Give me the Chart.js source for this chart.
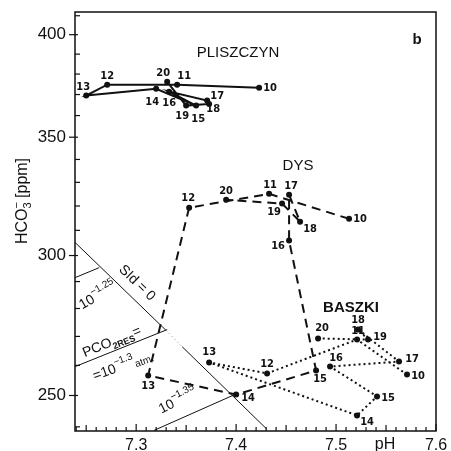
<!DOCTYPE html>
<html>
<head>
<meta charset="utf-8">
<script src="https://cdn.jsdelivr.net/npm/chart.js@4.4.0/dist/chart.umd.min.js"></script>
<style>
html, body { margin: 0; padding: 0; background: #fff; }
</style>
</head>
<body>
<canvas id="myChart" width="451" height="451"></canvas>
<script>
// sample numbers, same order in every series
const samples = ['10', '11', '12', '13', '14', '15', '16', '17', '18', '19', '20'];

const plisPH   = [7.423, 7.341, 7.271, 7.250, 7.320, 7.360, 7.333, 7.371, 7.373, 7.350, 7.331];
const plisHCO3 = [373.3, 374.8, 374.8, 369.5, 372.8, 364.7, 371.4, 367.1, 365.5, 364.7, 376.2];

const dysPH   = [7.513, 7.433, 7.353, 7.312, 7.400, 7.480, 7.453, 7.453, 7.464, 7.446, 7.390];
const dysHCO3 = [314.7, 325.1, 319.3, 256.6, 250.3, 258.3, 305.9, 324.7, 313.5, 321.0, 322.6];

const basPH   = [7.571, 7.521, 7.431, 7.373, 7.521, 7.541, 7.494, 7.563, 7.522, 7.532, 7.482];
const basHCO3 = [256.9, 268.9, 257.3, 261.0, 243.6, 249.7, 259.6, 261.3, 272.4, 268.9, 269.3];

// equilibrium lines
const sidPH   = [7.239, 7.330, 7.346, 7.431];
const sidHCO3 = [305.1, 272.1, 266.4, 239.2];
const co2aPH   = [7.239, 7.263];
const co2aHCO3 = [291.5, 295.3];
const co2bPH   = [7.239, 7.331];
const co2bHCO3 = [259.6, 272.4];
const co2cPH   = [7.318, 7.400];
const co2cHCO3 = [238.9, 250.5];

const xTicks = [7.3, 7.4, 7.5, 7.6];
const yTicks = [250, 300, 350, 400];

// where the sample numbers sit next to their points (px)
const labelOffsets = [
    [[11, 0], [7, -9], [0, -9], [-3, -8], [-4, 13], [2, 14], [0, 12], [10, -4], [4, 5], [-4, 11], [-4, -9]],
    [[11, 0], [1, -9], [-1, -10], [0, 11], [12, 4], [4, 9], [-11, 6], [2, -9], [10, 7], [-8, 9], [0, -9]],
    [[11, 2], [1, -8], [0, -9], [0, -10], [10, 7], [11, 2], [6, -8], [13, -2], [0, -9], [12, -2], [4, -10]]
];

function pts(xs, ys) {
    return xs.map((v, i) => ({ x: v, y: ys[i] }));
}

function thin(xs, ys) {
    return {
        data: pts(xs, ys),
        showLine: true,
        borderColor: '#111',
        borderWidth: 1,
        pointRadius: 0,
        fill: false
    };
}

function series(xs, ys, dash) {
    return {
        data: pts(xs, ys),
        showLine: true,
        borderColor: '#111',
        backgroundColor: '#111',
        borderWidth: 2,
        borderDash: dash,
        pointRadius: 3,
        pointBorderWidth: 0,
        fill: false
    };
}

function richText(ctx, cx, cy, angle, parts) {
    ctx.save();
    ctx.translate(cx, cy);
    ctx.rotate(angle * Math.PI / 180);
    ctx.textBaseline = 'middle';
    ctx.textAlign = 'left';
    let w = 0;
    parts.forEach(p => {
        ctx.font = p.font;
        if (!p.stay) w += ctx.measureText(p.t).width;
    });
    let xx = -w / 2;
    parts.forEach(p => {
        ctx.font = p.font;
        ctx.fillText(p.t, xx, p.dy || 0);
        if (!p.stay) xx += ctx.measureText(p.t).width;
    });
    ctx.restore();
}

function seg(ctx, x1, y1, x2, y2) {
    ctx.beginPath();
    ctx.moveTo(x1, y1);
    ctx.lineTo(x2, y2);
    ctx.stroke();
}

const F = "'Liberation Sans', Arial, sans-serif";
const FN = "'DejaVu Sans Condensed', 'Liberation Sans', sans-serif";

const decor = {
    id: 'decor',
    afterDatasetsDraw(chart) {
        const { ctx, chartArea: a, scales: { x, y } } = chart;
        ctx.save();
        ctx.strokeStyle = '#111';
        ctx.fillStyle = '#111';

        // frame
        ctx.lineWidth = 1.5;
        ctx.strokeRect(a.left, a.top, a.right - a.left, a.bottom - a.top);

        // tick marks
        ctx.lineWidth = 1.2;
        for (let i = 724; i <= 760; i++) {
            const px = x.getPixelForValue(i / 100);
            const len = i % 10 === 0 ? 7 : (i % 5 === 0 ? 6 : 4);
            seg(ctx, px, a.bottom, px, a.bottom - len);
        }
        for (let v = 240; v <= 410; v += 10) {
            const py = y.getPixelForValue(v);
            if (v % 50 === 0) seg(ctx, a.left - 6, py, a.left + 3, py);
            else seg(ctx, a.left, py, a.left + 5, py);
        }

        // sample numbers
        ctx.font = 'bold 11px ' + FN;
        ctx.textAlign = 'center';
        ctx.textBaseline = 'middle';
        for (let d = 0; d < 3; d++) {
            const meta = chart.getDatasetMeta(d);
            meta.data.forEach((pt, i) => {
                const off = labelOffsets[d][i];
                ctx.fillText(samples[i], pt.x + off[0], pt.y + off[1]);
            });
        }

        // site names
        ctx.font = '15px ' + F;
        ctx.fillText('PLISZCZYN', 238, 53);
        ctx.fillText('DYS', 298, 166);
        ctx.font = 'bold 15px ' + F;
        ctx.fillText('BASZKI', 351, 308);
        ctx.fillText('b', 417, 40);

        // line annotations
        const f14 = '14px ' + F, f10 = '10px ' + F, f9 = '9px ' + F;
        richText(ctx, 137, 283, 44, [{ t: 'SId = 0', font: f14 }]);
        richText(ctx, 98, 296, -30, [{ t: '10', font: f14 }, { t: '\u22121.25', font: f10, dy: -6 }]);
        richText(ctx, 112, 342, -22, [{ t: 'PCO', font: f14 }, { t: '2RES', font: 'bold ' + f9, dy: 5 }, { t: '=', font: f14 }]);
        richText(ctx, 123, 366, -20, [{ t: '=10', font: f14 }, { t: '\u22121.3', font: f10, dy: -6 }, { t: 'atm.', font: f10, dy: 3 }]);
        richText(ctx, 178, 401, -27, [{ t: '10', font: f14 }, { t: '\u22121.35', font: f10, dy: -6 }]);

        // axis titles
        const f16 = '16px ' + F, f11 = '11px ' + F;
        richText(ctx, 23, 201, -90, [
            { t: 'HCO', font: f16 },
            { t: '\u2212', font: f11, dy: -6, stay: true },
            { t: '3', font: f11, dy: 5 },
            { t: ' [ppm]', font: f16 }
        ]);
        ctx.font = f16;
        ctx.textAlign = 'center';
        ctx.textBaseline = 'top';
        ctx.fillText('pH', 385, 437);

        ctx.restore();
    }
};

const ctx = document.getElementById('myChart').getContext('2d');

const myChart = new Chart(ctx, {
    type: 'scatter',
    data: {
        datasets: [
            series(plisPH, plisHCO3, []),
            series(dysPH, dysHCO3, [9, 6]),
            series(basPH, basHCO3, [2, 3]),
            Object.assign(thin(sidPH, sidHCO3), {
                segment: {
                    borderDash: c => c.p0DataIndex === 1 ? [1, 3] : undefined,
                    borderColor: c => c.p0DataIndex === 1 ? '#888' : undefined
                }
            }),
            thin(co2aPH, co2aHCO3),
            thin(co2bPH, co2bHCO3),
            thin(co2cPH, co2cHCO3)
        ]
    },
    options: {
        responsive: false,
        animation: false,
        layout: { padding: { top: 12, right: 15, left: 0, bottom: 0 } },
        plugins: {
            legend: { display: false },
            tooltip: { enabled: false }
        },
        scales: {
            x: {
                type: 'linear',
                min: 7.2388,
                max: 7.6,
                grid: { display: false, drawTicks: false },
                border: { display: false },
                afterBuildTicks: s => { s.ticks = xTicks.map(v => ({ value: v })); },
                afterFit: s => {
                    s.height = 20;
                    s.paddingLeft = 0; s.paddingRight = 0;
                },
                ticks: {
                    autoSkip: false,
                    maxRotation: 0,
                    padding: 5,
                    color: '#111',
                    font: { family: 'Liberation Sans', size: 16 },
                    callback: v => v.toFixed(1)
                }
            },
            y: {
                type: 'logarithmic',
                min: 238.7,
                max: 412,
                grid: { display: false, drawTicks: false },
                border: { display: false },
                afterBuildTicks: s => { s.ticks = yTicks.map(v => ({ value: v })); },
                afterFit: s => {
                    s.width = 75;
                    s.paddingTop = 0; s.paddingBottom = 0;
                },
                ticks: {
                    autoSkip: false,
                    padding: 9,
                    color: '#111',
                    font: { family: 'Liberation Sans', size: 17 },
                    callback: v => String(v)
                }
            }
        }
    },
    plugins: [decor]
});
</script>
</body>
</html>
